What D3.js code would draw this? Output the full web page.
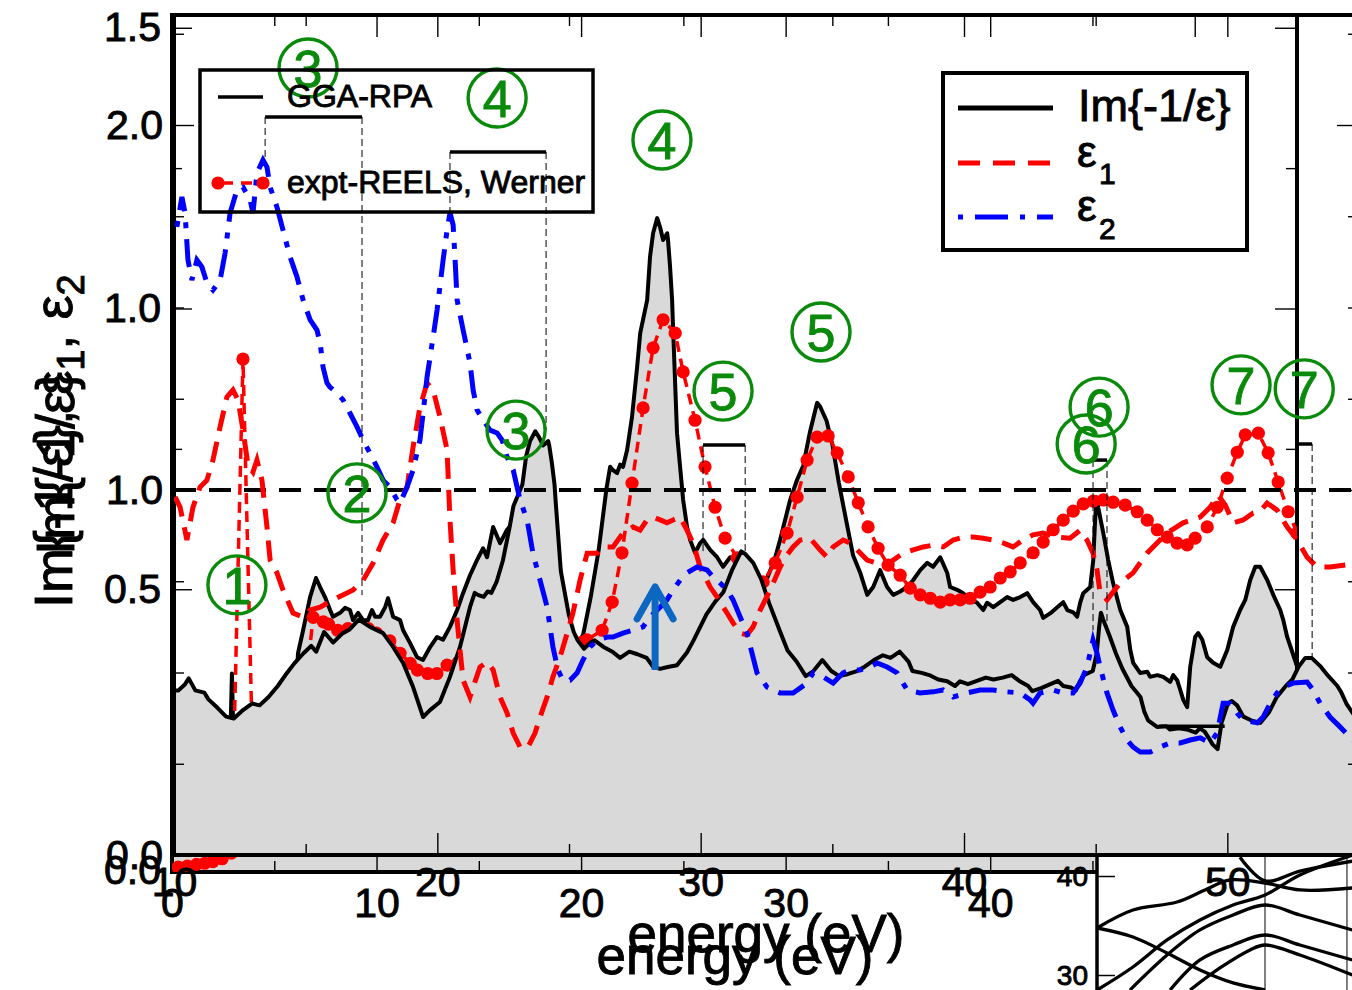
<!DOCTYPE html>
<html><head><meta charset="utf-8">
<script src="https://cdn.jsdelivr.net/npm/d3@7"></script>
<style>body{margin:0;background:#fff}svg{display:block}text{font-family:"Liberation Sans",Arial,sans-serif}</style>
</head><body>
<svg id="c" width="1352" height="990"></svg>
<script>
// ---------------- DATA ----------------
// GGA-RPA loss function Im{-1/eps} : [energy eV, value]
const lossGGA = [[0,0.10],[0.5,0.11],[1,0.12],[1.5,0.13],[2,0.14],[2.5,0.15],[2.8,0.16],[2.93,0.35],[3.05,0.17],[3.5,0.17],[4,0.17],[4.5,0.18],[5,0.19],[5.5,0.2],[5.9,0.22],[6.16,0.386],[6.41,0.427],[6.75,0.486],[7.04,0.52],[7.24,0.504],[7.48,0.486],[7.73,0.463],[7.87,0.451],[8.22,0.458],[8.46,0.467],[8.7,0.463],[8.85,0.445],[9.1,0.458],[9.34,0.445],[9.58,0.445],[9.78,0.463],[9.93,0.451],[10.17,0.451],[10.42,0.468],[10.56,0.484],[10.81,0.451],[11.15,0.445],[11.3,0.427],[11.64,0.404],[11.98,0.379],[12.27,0.374],[12.62,0.397],[12.96,0.415],[13.25,0.41],[13.59,0.433],[13.94,0.463],[14.23,0.493],[14.57,0.525],[14.91,0.552],[15.21,0.573],[15.4,0.557],[15.7,0.611],[16.04,0.582],[16.38,0.606],[16.67,0.618],[17.02,0.645],[17.44,0.625],[17.94,0.608],[18.32,0.57],[18.7,0.526],[19.08,0.46],[19.46,0.378],[19.72,0.397],[20.1,0.419],[20.48,0.488],[20.86,0.57],[21.24,0.679],[21.42,0.718],[21.56,0.712],[21.76,0.707],[21.91,0.722],[22.05,0.718],[22.25,0.748],[22.49,0.807],[22.74,0.896],[22.89,0.956],[23.23,1.015],[23.37,1.092],[23.52,1.134],[23.72,1.161],[23.86,1.145],[24.01,1.122],[24.21,1.134],[24.25,1.122],[24.35,1.074],[24.45,1.015],[24.5,0.962],[24.69,0.778],[24.84,0.718],[24.99,0.659],[25.18,0.611],[25.33,0.588],[25.57,0.565],[25.82,0.582],[25.97,0.588],[26.31,0.57],[26.65,0.557],[26.94,0.54],[27.29,0.557],[27.6,0.55],[27.95,0.54],[28.2,0.515],[28.46,0.51],[28.75,0.515],[29.1,0.52],[29.48,0.555],[29.73,0.588],[30.22,0.659],[30.56,0.695],[30.86,0.72],[31.2,0.782],[31.54,0.832],[31.69,0.825],[32.0,0.8],[32.3,0.755],[32.6,0.69],[33.0,0.615],[33.3,0.56],[33.64,0.53],[33.99,0.49],[34.28,0.504],[34.62,0.534],[34.96,0.504],[35.26,0.49],[35.6,0.496],[35.94,0.504],[36.23,0.516],[36.58,0.534],[36.92,0.547],[37.21,0.54],[37.56,0.557],[37.9,0.529],[38.04,0.504],[38.39,0.499],[38.68,0.493],[39.02,0.481],[39.36,0.476],[39.66,0.463],[39.85,0.476],[40.15,0.468],[40.49,0.477],[40.83,0.486],[41.12,0.481],[41.47,0.486],[41.81,0.493],[42.1,0.477],[42.44,0.463],[42.59,0.449],[42.93,0.457],[43.28,0.468],[43.57,0.477],[43.77,0.463],[44.06,0.459],[44.25,0.451],[44.4,0.476],[44.55,0.493],[44.89,0.504],[45.04,0.552],[45.13,0.623],[45.2,0.664],[45.28,0.646],[45.53,0.6],[45.77,0.552],[46.01,0.511],[46.36,0.463],[46.7,0.433],[46.85,0.392],[46.99,0.369],[47.33,0.351],[47.68,0.353],[47.82,0.344],[48.17,0.347],[48.46,0.344],[48.8,0.335],[48.95,0.347],[49.14,0.338],[49.29,0.321],[49.44,0.303],[49.63,0.29],[49.78,0.362],[50.02,0.415],[50.17,0.422],[50.37,0.41],[50.61,0.379],[50.9,0.369],[51.25,0.362],[51.59,0.392],[51.88,0.433],[52.22,0.463],[52.47,0.481],[52.71,0.516],[52.96,0.54],[53.2,0.54],[53.55,0.516],[53.84,0.49],[54.18,0.463],[54.33,0.445],[54.52,0.415],[55.01,0.362],[55.3,0.33]];

// expt-REELS (Werner) : [energy eV, value]
const exptREELS = [[0.3,0.005],[0.75,0.007],[1.2,0.01],[1.6,0.012],[2.0,0.015],[2.45,0.02],[2.9,0.03],[3.47,0.91],[4.0,0.12],[4.5,0.14],[5.0,0.16],[5.5,0.2],[6.0,0.25],[6.45,0.3],[6.9,0.45],[7.4,0.442],[7.65,0.438],[8.1,0.427],[8.6,0.43],[9.1,0.43],[9.6,0.43],[10.0,0.422],[10.65,0.408],[11.15,0.386],[11.65,0.368],[12.0,0.356],[12.5,0.35],[12.95,0.35],[13.45,0.365],[14.0,0.37],[14.5,0.375],[15,0.38],[15.5,0.385],[16,0.388],[16.5,0.39],[17,0.39],[17.5,0.392],[18,0.392],[18.5,0.395],[19,0.398],[19.5,0.4],[20.0,0.405],[20.29,0.41],[21.03,0.427],[21.52,0.477],[22.0,0.565],[22.49,0.689],[23.03,0.823],[23.52,0.93],[24.01,0.98],[24.6,0.956],[24.99,0.887],[25.57,0.801],[26.06,0.718],[26.55,0.646],[27.04,0.591],[27.63,0.556],[28.26,0.525],[28.9,0.513],[29.49,0.547],[30.07,0.6],[30.56,0.664],[31.05,0.73],[31.54,0.771],[32.08,0.773],[32.52,0.743],[33.06,0.7],[33.55,0.654],[34.03,0.611],[34.52,0.573],[35.01,0.543],[35.6,0.525],[36.09,0.502],[36.58,0.49],[37.07,0.484],[37.56,0.477],[38.04,0.481],[38.53,0.481],[39.02,0.484],[39.51,0.495],[40.0,0.504],[40.49,0.52],[40.98,0.531],[41.47,0.547],[42.1,0.565],[42.59,0.584],[43.08,0.606],[43.57,0.623],[44.06,0.639],[44.55,0.652],[45.04,0.657],[45.53,0.659],[46.01,0.655],[46.6,0.65],[47.19,0.638],[47.68,0.623],[48.17,0.606],[48.66,0.593],[49.14,0.582],[49.63,0.579],[50.02,0.591],[50.61,0.611],[51.1,0.646],[51.59,0.698],[52.08,0.744],[52.47,0.775],[53.11,0.778],[53.59,0.743],[54.08,0.691],[54.57,0.638],[55.01,0.6]];

// eps1 : [energy eV, value]
const eps1 = [[10.04,0.981],[10.23,0.953],[10.49,0.863],[10.72,0.953],[10.99,1.008],[11.25,1.027],[11.48,1.082],[11.75,1.173],[12.01,1.255],[12.24,1.274],[12.43,1.247],[12.62,1.164],[12.81,1.068],[13.0,1.049],[13.15,1.082],[13.34,1.027],[13.53,0.899],[13.65,0.808],[13.91,0.773],[14.14,0.726],[14.52,0.663],[14.9,0.652],[15.17,0.671],[15.55,0.679],[16.04,0.699],[16.57,0.718],[16.8,0.726],[17.18,0.753],[17.56,0.8],[17.94,0.863],[18.32,0.91],[18.58,0.973],[18.85,1.008],[19.08,1.118],[19.34,1.227],[19.61,1.293],[19.84,1.274],[20.1,1.2],[20.37,1.11],[20.48,0.918],[20.6,0.781],[20.75,0.644],[20.86,0.562],[20.98,0.479],[21.24,0.433],[21.36,0.46],[21.62,0.515],[21.89,0.529],[22.12,0.507],[22.38,0.433],[22.65,0.389],[22.88,0.334],[23.14,0.296],[23.41,0.293],[23.52,0.307],[23.71,0.334],[23.9,0.378],[24.17,0.433],[24.39,0.488],[24.66,0.542],[24.93,0.608],[25.15,0.663],[25.42,0.753],[25.69,0.827],[26.07,0.827],[26.29,0.844],[26.67,0.844],[27.05,0.882],[27.43,0.899],[27.7,0.89],[27.96,0.918],[28.19,0.926],[28.46,0.918],[28.72,0.91],[28.95,0.918],[29.22,0.926],[29.48,0.89],[29.71,0.855],[29.98,0.789],[30.36,0.734],[30.62,0.707],[31.0,0.663],[31.23,0.636],[31.5,0.608],[31.76,0.603],[31.99,0.625],[32.26,0.671],[32.64,0.726],[33.02,0.789],[33.28,0.822],[33.51,0.844],[33.78,0.863],[34.15,0.868],[34.53,0.836],[34.8,0.816],[35.03,0.844],[35.41,0.863],[35.67,0.855],[35.94,0.836],[36.32,0.808],[36.7,0.8],[37.08,0.789],[37.31,0.808],[37.69,0.827],[38.07,0.836],[38.45,0.844],[38.83,0.849],[39.21,0.844],[39.59,0.863],[39.97,0.871],[40.35,0.871],[40.73,0.868],[41.11,0.863],[41.48,0.855],[41.86,0.844],[42.24,0.863],[42.62,0.877],[43.0,0.882],[43.54,0.871],[44.03,0.868],[44.41,0.89],[44.67,0.863],[44.9,0.827],[45.05,0.781],[45.17,0.718],[45.43,0.699],[45.93,0.745],[46.42,0.773],[46.95,0.827],[47.71,0.882],[48.32,0.91],[48.97,0.926],[49.35,0.953],[49.65,0.986],[49.92,0.959],[50.22,0.91],[50.6,0.918],[50.98,0.937],[51.25,0.942],[51.51,0.964],[51.89,0.945],[52.27,0.899],[52.65,0.863],[53.03,0.816],[53.41,0.789],[53.9,0.789],[54.55,0.795],[55.04,0.786]];

// eps2 : [energy eV, value]
const eps2 = [[10.11,1.721],[10.3,1.803],[10.42,1.759],[10.53,1.63],[10.68,1.575],[10.87,1.63],[11.06,1.611],[11.25,1.567],[11.48,1.548],[11.75,1.575],[11.94,1.649],[12.13,1.759],[12.39,1.822],[12.62,1.83],[12.89,1.795],[13.0,1.759],[13.15,1.868],[13.38,1.904],[13.53,1.885],[13.65,1.83],[13.91,1.775],[14.14,1.712],[14.41,1.638],[14.67,1.584],[14.9,1.521],[15.17,1.466],[15.43,1.438],[15.55,1.403],[15.66,1.337],[15.81,1.293],[15.92,1.282],[16.19,1.266],[16.42,1.247],[16.68,1.211],[16.95,1.173],[17.18,1.137],[17.44,1.101],[17.71,1.063],[17.94,1.027],[18.2,1.008],[18.47,0.973],[18.58,0.964],[18.85,1.008],[19.08,1.055],[19.34,1.137],[19.46,1.211],[19.61,1.31],[19.84,1.419],[19.99,1.493],[20.22,1.63],[20.37,1.712],[20.48,1.759],[20.6,1.726],[20.67,1.638],[20.75,1.521],[20.98,1.438],[21.24,1.348],[21.36,1.274],[21.51,1.219],[21.74,1.192],[22.0,1.164],[22.27,1.156],[22.46,1.137],[22.65,1.09],[22.88,1.055],[23.14,0.973],[23.41,0.918],[23.63,0.827],[23.9,0.753],[24.17,0.679],[24.28,0.625],[24.39,0.57],[24.58,0.507],[24.77,0.479],[25.04,0.479],[25.31,0.499],[25.53,0.534],[25.8,0.57],[26.07,0.589],[26.45,0.597],[26.67,0.597],[27.05,0.608],[27.43,0.616],[27.81,0.625],[28.08,0.652],[28.46,0.679],[28.72,0.699],[28.95,0.726],[29.22,0.753],[29.48,0.773],[29.86,0.789],[30.24,0.781],[30.47,0.762],[30.74,0.745],[31.0,0.726],[31.23,0.699],[31.5,0.652],[31.76,0.608],[31.95,0.553],[32.14,0.499],[32.52,0.46],[33.02,0.444],[33.51,0.444],[34.04,0.471],[34.27,0.499],[34.65,0.488],[35.03,0.471],[35.41,0.499],[35.67,0.507],[36.05,0.507],[36.43,0.515],[36.7,0.526],[37.08,0.515],[37.46,0.499],[37.84,0.452],[38.33,0.444],[38.83,0.447],[39.21,0.452],[39.59,0.433],[40.12,0.444],[40.61,0.452],[41.11,0.452],[41.64,0.447],[42.13,0.444],[42.51,0.425],[42.62,0.416],[42.89,0.444],[43.38,0.452],[43.76,0.444],[44.14,0.444],[44.41,0.471],[44.67,0.515],[44.79,0.553],[44.9,0.589],[45.05,0.553],[45.17,0.515],[45.43,0.444],[45.66,0.397],[45.93,0.351],[46.19,0.315],[46.42,0.296],[46.69,0.282],[47.07,0.282],[47.45,0.296],[47.83,0.307],[48.21,0.307],[48.59,0.315],[48.97,0.321],[49.35,0.307],[49.61,0.334],[49.84,0.416],[50.11,0.416],[50.37,0.389],[50.6,0.37],[51.14,0.362],[51.36,0.378],[51.63,0.416],[51.89,0.444],[52.12,0.46],[52.5,0.471],[53.03,0.474],[53.26,0.452],[53.52,0.416],[53.9,0.378],[54.28,0.351],[54.66,0.323],[55.0,0.3]];

// inset band structure : [k, energy eV]
const bandLines = [
  [[0,34.75],[0.214,36.57],[0.476,37.37],[0.643,38.59],[0.792,39.6],[1,39.29],[1.208,38.59],[1.52,38.79]],
  [[0,34.75],[0.214,33.84],[0.417,32.22],[0.613,30.51],[0.81,29.2],[1,28.5]],
  [[0,28.48],[0.214,30.81],[0.417,33.54],[0.613,35.56],[0.81,37.07],[1,38.08],[1.208,40.1],[1.52,42.1]],
  [[0.196,28.48],[0.417,32.02],[0.613,34.55],[0.81,36.06],[1,37.07],[1.208,36.06],[1.52,34.55]],
  [[0.435,28.48],[0.613,31.52],[0.81,33.03],[1,34.04],[1.208,33.03],[1.52,31.52]],
  [[0.554,28.48],[0.732,30.71],[0.911,32.53],[1,33.03],[1.208,32.02],[1.52,30.0]],
  [[0.851,41.9],[1,39.5],[1.208,40.5],[1.52,41.5]]
];
const insetSymK = [1, 1.488];

// tick values
const xTicksA = [0,10,20,30,40,50], xMinorA = [5,15,25,35,45,55];
const yTicksA = [0,0.5,1.0,1.5], yMinorA = [0.25,0.75,1.25];
const xTicksB = [10,20,30,40,50], xMinorB = [15,25,35,45,55];
const yTicksB = [0,1,2], yMinorB = [0.25,0.5,0.75,1.25,1.5,1.75,2.25];

// annotations (frame B coordinates: energy, value)
const circled = [["1",12.39,0.74],["2",16.95,0.992],["3",15.09,2.156],["4",22.27,2.074],["4",28.53,1.959],["3",22.99,1.164],["5",30.85,1.271],["5",34.57,1.433],["6",45.13,1.227],["6",44.64,1.126],["7",50.52,1.288],["7",52.92,1.277]];
const peakBars = [[13.46,17.14,2.022,1.904,0.712],[20.48,24.13,1.926,1.759,1.164],[30.09,31.69,1.123,0.822,0.822],[44.9,45.43,1.082,0.616,0.616],[52.65,53.22,1.126,null,0.534],[47.4,49.9,0.353,null,null]];
const arrowMark = [28.27,0.507,0.74];

// ---------------- DRAW ----------------
const svg = d3.select("#c");
const FONT = '"Liberation Sans",Arial,sans-serif';
const defs = svg.append("defs");

// frame A : GGA-RPA vs expt
const xA = d3.scaleLinear().domain([0,55]).range([172,1297]);
const yA = d3.scaleLinear().domain([0,1.5]).range([870,27.75]);
// frame B : Im{-1/eps}, eps1, eps2
const xB = d3.scaleLinear().domain([10,55]).range([174,1359]);
const yB = d3.scaleLinear().domain([0,2]).range([855,125]);

defs.append("clipPath").attr("id","clipA").append("rect").attr("x",172).attr("y",15).attr("width",1125).attr("height",857);
defs.append("clipPath").attr("id","clipB").append("rect").attr("x",174).attr("y",15).attr("width",1185).attr("height",840);
defs.append("clipPath").attr("id","clipI").append("rect").attr("x",1097).attr("y",857).attr("width",260).attr("height",140);

function heavy(sel, col){ return sel.attr("stroke",col||"#000").attr("stroke-width",0.9).attr("paint-order","stroke"); }
function styleAxis(g, fs){
  g.select(".domain").remove();
  g.selectAll("line").attr("stroke","#000").attr("stroke-width",1.4);
  g.selectAll("text").attr("font-size",fs).attr("font-family",FONT).attr("fill","#000").attr("stroke","#000").attr("stroke-width",0.9);
}
function axes(g, x, y, xt, xm, yt, ym, bottom, top, left, right, padX){
  g.append("g").attr("transform",`translate(0,${bottom})`).call(d3.axisBottom(x).tickValues(xm).tickSize(-11).tickFormat("")).call(a=>styleAxis(a,41));
  g.append("g").attr("transform",`translate(0,${bottom})`).call(d3.axisBottom(x).tickValues(xt).tickSize(-22).tickPadding(padX).tickFormat(d3.format("d"))).call(a=>styleAxis(a,41));
  g.append("g").attr("transform",`translate(0,${top})`).call(d3.axisTop(x).tickValues(xm).tickSize(-11).tickFormat("")).call(a=>styleAxis(a,41));
  g.append("g").attr("transform",`translate(0,${top})`).call(d3.axisTop(x).tickValues(xt).tickSize(-22).tickFormat("")).call(a=>styleAxis(a,41));
  g.append("g").attr("transform",`translate(${left},0)`).call(d3.axisLeft(y).tickValues(ym).tickSize(-10).tickFormat("")).call(a=>styleAxis(a,41));
  g.append("g").attr("transform",`translate(${left},0)`).call(d3.axisLeft(y).tickValues(yt).tickSize(-20).tickPadding(11).tickFormat(d3.format(".1f"))).call(a=>styleAxis(a,41));
  g.append("g").attr("transform",`translate(${right},0)`).call(d3.axisRight(y).tickValues(ym).tickSize(-11).tickFormat("")).call(a=>styleAxis(a,41));
  g.append("g").attr("transform",`translate(${right},0)`).call(d3.axisRight(y).tickValues(yt).tickSize(-22).tickFormat("")).call(a=>styleAxis(a,41));
}

// ---- layer A
const gA = svg.append("g");
gA.append("path").datum(lossGGA).attr("clip-path","url(#clipA)").attr("fill","#d9d9d9")
  .attr("d", d3.area().x(d=>xA(d[0])).y0(yA(0)).y1(d=>yA(d[1])));
gA.append("rect").attr("x",172).attr("y",15).attr("width",1125).attr("height",857).attr("fill","none").attr("stroke","#000").attr("stroke-width",4);
axes(gA, xA, yA, xTicksA, xMinorA, yTicksA, yMinorA, 872, 15, 172, 1297, 16);
gA.append("path").datum(lossGGA).attr("clip-path","url(#clipA)").attr("fill","none").attr("stroke","#000").attr("stroke-width",4).attr("stroke-linejoin","round")
  .attr("d", d3.line().x(d=>xA(d[0])).y(d=>yA(d[1])));
const gEx = gA.append("g").attr("clip-path","url(#clipA)");
gEx.append("path").datum(exptREELS).attr("fill","none").attr("stroke","#ff0000").attr("stroke-width",3.5).attr("stroke-dasharray","11,7")
  .attr("d", d3.line().x(d=>xA(d[0])).y(d=>yA(d[1])));
gEx.selectAll("circle").data(exptREELS).join("circle").attr("cx",d=>xA(d[0])).attr("cy",d=>yA(d[1])).attr("r",6.6).attr("fill","#ff0000");

// ---- inset
const gI = svg.append("g");
const kS = d3.scaleLinear().domain([0,1.5]).range([1097,1349]);
const eS = d3.scaleLinear().domain([30,40]).range([975,876]);
gI.append("rect").attr("x",1097).attr("y",857).attr("width",260).attr("height",140).attr("fill","#fff");
const gIc = gI.append("g").attr("clip-path","url(#clipI)");
insetSymK.forEach(k=>gIc.append("line").attr("x1",kS(k)).attr("x2",kS(k)).attr("y1",857).attr("y2",990).attr("stroke","#000").attr("stroke-width",1));
bandLines.forEach(b=>gIc.append("path").datum(b).attr("fill","none").attr("stroke","#000").attr("stroke-width",3.3)
  .attr("d", d3.line().curve(d3.curveCatmullRom).x(d=>kS(d[0])).y(d=>eS(d[1]))));
gI.append("g").attr("transform","translate(1097,0)").call(d3.axisRight(eS).tickValues([30,40]).tickSize(18).tickFormat(""))
  .call(a=>{a.select(".domain").remove();a.selectAll("line").attr("stroke","#000").attr("stroke-width",1.5);});
[30,40].forEach(v=>heavy(gI.append("text").attr("x",1088).attr("y",eS(v)).attr("dy","0.36em").attr("text-anchor","end").attr("font-size",28).text(v)));
gI.append("line").attr("x1",1097).attr("x2",1097).attr("y1",857).attr("y2",990).attr("stroke","#000").attr("stroke-width",3.5);

// ---- layer B
const gB = svg.append("g");
gB.append("path").datum(lossGGA).attr("clip-path","url(#clipB)").attr("fill","#d9d9d9")
  .attr("d", d3.area().x(d=>xB(d[0])).y0(yB(0)).y1(d=>yB(d[1])));
gB.append("rect").attr("x",174).attr("y",15).attr("width",1185).attr("height",840).attr("fill","none").attr("stroke","#000").attr("stroke-width",4);
axes(gB, xB, yB, xTicksB, xMinorB, yTicksB, yMinorB, 855, 15, 174, 1359, 12);
const gBc = gB.append("g").attr("clip-path","url(#clipB)");
gBc.append("line").attr("x1",xB(10)).attr("x2",xB(55)).attr("y1",yB(1)).attr("y2",yB(1)).attr("stroke","#000").attr("stroke-width",4.2).attr("stroke-dasharray","22,13");
gBc.append("path").datum(lossGGA).attr("fill","none").attr("stroke","#000").attr("stroke-width",4).attr("stroke-linejoin","round")
  .attr("d", d3.line().x(d=>xB(d[0])).y(d=>yB(d[1])));
gBc.append("path").datum(eps1).attr("fill","none").attr("stroke","#ff0000").attr("stroke-width",5).attr("stroke-dasharray","21,11")
  .attr("d", d3.line().x(d=>xB(d[0])).y(d=>yB(d[1])));
gBc.append("path").datum(eps2).attr("fill","none").attr("stroke","#0000ff").attr("stroke-width",5).attr("stroke-dasharray","6,11,28,11")
  .attr("d", d3.line().x(d=>xB(d[0])).y(d=>yB(d[1])));

// ---- annotations
const gN = svg.append("g");
peakBars.forEach(b=>{
  gN.append("line").attr("x1",xB(b[0])).attr("x2",xB(b[1])).attr("y1",yB(b[2])).attr("y2",yB(b[2])).attr("stroke","#000").attr("stroke-width",3.5);
  if(b[3]!==null) gN.append("line").attr("x1",xB(b[0])).attr("x2",xB(b[0])).attr("y1",yB(b[2])).attr("y2",yB(b[3])).attr("stroke","#000").attr("stroke-width",1).attr("stroke-dasharray","7,4");
  if(b[4]!==null) gN.append("line").attr("x1",xB(b[1])).attr("x2",xB(b[1])).attr("y1",yB(b[2])).attr("y2",yB(b[4])).attr("stroke","#000").attr("stroke-width",1).attr("stroke-dasharray","7,4");
});
{
  const ax = xB(arrowMark[0]), y0 = yB(arrowMark[1]), y1 = yB(arrowMark[2]);
  gN.append("line").attr("x1",ax).attr("x2",ax).attr("y1",y0).attr("y2",y1+3).attr("stroke","#0b67c2").attr("stroke-width",7);
  gN.append("path").attr("d",`M${ax-18},${y1+34}L${ax},${y1+2}L${ax+18},${y1+34}`).attr("fill","none").attr("stroke","#0b67c2").attr("stroke-width",7).attr("stroke-linecap","round").attr("stroke-linejoin","round");
}
circled.forEach(c=>{
  const cx = xB(c[1]), cy = yB(c[2]);
  gN.append("circle").attr("cx",cx).attr("cy",cy).attr("r",29).attr("fill","none").attr("stroke","#0a8a0a").attr("stroke-width",3.4);
  heavy(gN.append("text").attr("x",cx).attr("y",cy).attr("dy","0.36em").attr("text-anchor","middle").attr("font-size",52).attr("fill","#0a8a0a").text(c[0]),"#0a8a0a");
});

// ---- legends
const gL = svg.append("g");
gL.append("rect").attr("x",200).attr("y",70).attr("width",393).attr("height",142).attr("fill","none").attr("stroke","#000").attr("stroke-width",3.5);
gL.append("line").attr("x1",218).attr("x2",263).attr("y1",97).attr("y2",97).attr("stroke","#000").attr("stroke-width",3.5);
heavy(gL.append("text").attr("x",287).attr("y",107).attr("font-size",32).text("GGA-RPA"));
gL.append("line").attr("x1",218).attr("x2",263).attr("y1",183).attr("y2",183).attr("stroke","#ff0000").attr("stroke-width",3.5).attr("stroke-dasharray","11,8").attr("stroke-dashoffset",-4);
[218,263].forEach(x=>gL.append("circle").attr("cx",x).attr("cy",183).attr("r",6.6).attr("fill","#ff0000"));
heavy(gL.append("text").attr("x",287).attr("y",193).attr("font-size",32).text("expt-REELS, Werner"));

gL.append("rect").attr("x",943).attr("y",73).attr("width",304).attr("height",177).attr("fill","none").attr("stroke","#000").attr("stroke-width",4);
gL.append("line").attr("x1",958).attr("x2",1053).attr("y1",108).attr("y2",108).attr("stroke","#000").attr("stroke-width",5);
heavy(gL.append("text").attr("x",1078).attr("y",121).attr("font-size",45).text("Im{-1/ε}"));
gL.append("line").attr("x1",958).attr("x2",1053).attr("y1",163).attr("y2",163).attr("stroke","#ff0000").attr("stroke-width",5).attr("stroke-dasharray","22,13");
heavy(gL.append("text").attr("x",1077).attr("y",167).attr("font-size",44).text("ε"));
heavy(gL.append("text").attr("x",1099).attr("y",184).attr("font-size",30).text("1"));
gL.append("line").attr("x1",958).attr("x2",1053).attr("y1",217).attr("y2",217).attr("stroke","#0000ff").attr("stroke-width",5).attr("stroke-dasharray","5,12,33,12");
heavy(gL.append("text").attr("x",1077).attr("y",221).attr("font-size",44).text("ε"));
heavy(gL.append("text").attr("x",1099).attr("y",239).attr("font-size",30).text("2"));

// ---- axis titles
heavy(svg.append("text").attr("x",766).attr("y",952).attr("text-anchor","middle").attr("font-size",53).text("energy (eV)"));
heavy(svg.append("text").attr("x",735).attr("y",974).attr("text-anchor","middle").attr("font-size",53).text("energy (eV)"));
const t1 = heavy(svg.append("text").attr("transform","translate(72,608) rotate(-90)").attr("text-anchor","start").attr("font-size",54));
t1.append("tspan").text("Im{-1/ε}, ε");
t1.append("tspan").attr("font-size",38).attr("dy",12).text("1");
t1.append("tspan").attr("dy",-12).text(", ε");
t1.append("tspan").attr("font-size",38).attr("dy",12).text("2");
heavy(svg.append("text").attr("transform","translate(74,555) rotate(-90)").attr("text-anchor","start").attr("font-size",54).text("Im{-1/ε}"));
</script>
</body></html>
